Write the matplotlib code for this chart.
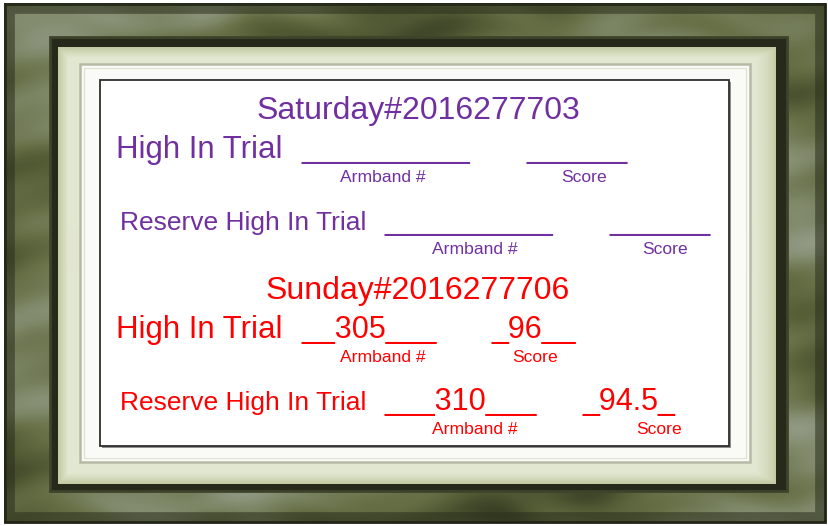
import matplotlib
matplotlib.use("Agg")
import matplotlib.pyplot as plt
import numpy as np
from matplotlib.patches import Rectangle
from matplotlib.colors import LinearSegmentedColormap

W, H = 829, 526

# text content
day_titles = ["Saturday#2016277703", "Sunday#2016277706"]
day_colors = ["#7030a0", "#ff0000"]
award_labels = ["High In Trial", "Reserve High In Trial"]
armband_entries = [["__________", "__________"], ["__305___", "___310___"]]
score_entries = [["______", "______"], ["_96__", "_94.5_"]]
caption_armband = "Armband #"
caption_score = "Score"

plt.rcParams['font.family'] = ['Liberation Sans', 'DejaVu Sans']

fig = plt.figure(figsize=(W / 100, H / 100), dpi=100, facecolor="white")
ax = fig.add_axes([0, 0, 1, 1])
ax.set_xlim(0, W)
ax.set_ylim(H, 0)
ax.axis("off")

# marbled frame background (deterministic, low contrast)
yy, xx = np.mgrid[0:H, 0:W] / 100.0
tex = (np.sin(xx * 1.1 + 1.2 * np.sin(yy * 2.3))
       + 0.5 * np.sin(yy * 6.5 + xx * 0.6)
       + 0.35 * np.sin(xx * 4.3 - yy * 3.1 + np.cos(xx * 2.0))
       + 0.25 * np.sin(yy * 14.0 + 2.0 * np.sin(xx * 3.0)))
tex = (tex - tex.min()) / (tex.max() - tex.min())
marble = LinearSegmentedColormap.from_list(
    "marble", ["#3b4126", "#545c36", "#687148", "#7e8767", "#939a86"])
ax.imshow(tex, cmap=marble, extent=(4, 826, 523, 3), aspect="auto",
          interpolation="bilinear", zorder=0)

# darker outer rim of the frame
ax.add_patch(Rectangle((5, 4), 820, 518, fill=False, ec="#1f2214", lw=2, zorder=1))
ax.add_patch(Rectangle((10, 9), 810, 508, fill=False, ec="#2b2f1c", lw=7, alpha=0.55, zorder=1))

# dark bevel around the mat
ax.add_patch(Rectangle((50, 37), 737, 454, fc="#272a1b", ec="#3e432b", lw=2, zorder=2))

# mat with a narrow darker edge towards the bevel
mh, mw = 436, 718
my, mx = np.mgrid[0:mh, 0:mw]
dist = np.minimum(np.minimum(mx, mw - 1 - mx), np.minimum(my, mh - 1 - my))
shade = np.clip(dist / 10.0, 0, 1)
shade[:, mw - 20:] = np.minimum(shade[:, mw - 20:], np.linspace(1, 0.2, 20)[None, :])
shade[mh - 12:, :] = np.minimum(shade[mh - 12:, :], np.linspace(1, 0.4, 12)[:, None])
mat_cmap = LinearSegmentedColormap.from_list("mat", ["#c4cba3", "#e2e7d1"])
ax.imshow(shade, cmap=mat_cmap, extent=(58, 776, 484, 47), aspect="auto",
          interpolation="bilinear", zorder=3)

# inner white window with grey double line
ax.add_patch(Rectangle((80, 64), 670, 398, fc="#fafbf6", ec="#b6baa5", lw=1.8, zorder=4))
ax.add_patch(Rectangle((84, 68), 662, 390, fill=False, ec="#e2e4d8", lw=1.0, zorder=4))

# white panel with thin dark border and shadow
ax.add_patch(Rectangle((102, 82), 629, 366, fc="#8f8f8f", ec="none", zorder=5))
ax.add_patch(Rectangle((100, 80), 629, 366, fc="white", ec="#2e2e2e", lw=1.3, zorder=6))

# layout of the two day blocks
title_base = [119, 299]
row_offset = [39, 111]
label_x = [116, 120]
label_size = [22.5, 19]
armband_x = [302, 385]
score_x = [[527, 610], [492, 583]]
cap_armband_x = [383, 475]
cap_score_x = [[584, 665], [535, 659]]

for d, title in enumerate(day_titles):
    c = day_colors[d]
    ax.text(418, title_base[d], title, color=c, fontsize=23, ha="center",
            va="baseline", zorder=7)
    for r, label in enumerate(award_labels):
        yb = title_base[d] + row_offset[r]
        ax.text(label_x[r], yb, label, color=c, fontsize=label_size[r],
                ha="left", va="baseline", zorder=7)
        ax.text(armband_x[r], yb, armband_entries[d][r], color=c, fontsize=22,
                ha="left", va="baseline", zorder=7)
        ax.text(score_x[d][r], yb, score_entries[d][r], color=c, fontsize=22,
                ha="left", va="baseline", zorder=7)
        ax.text(cap_armband_x[r], yb + 24, caption_armband, color=c, fontsize=12.6,
                ha="center", va="baseline", zorder=7)
        ax.text(cap_score_x[d][r], yb + 24, caption_score, color=c, fontsize=12.6,
                ha="center", va="baseline", zorder=7)

fig.savefig("out.png", dpi=100, facecolor="white")
